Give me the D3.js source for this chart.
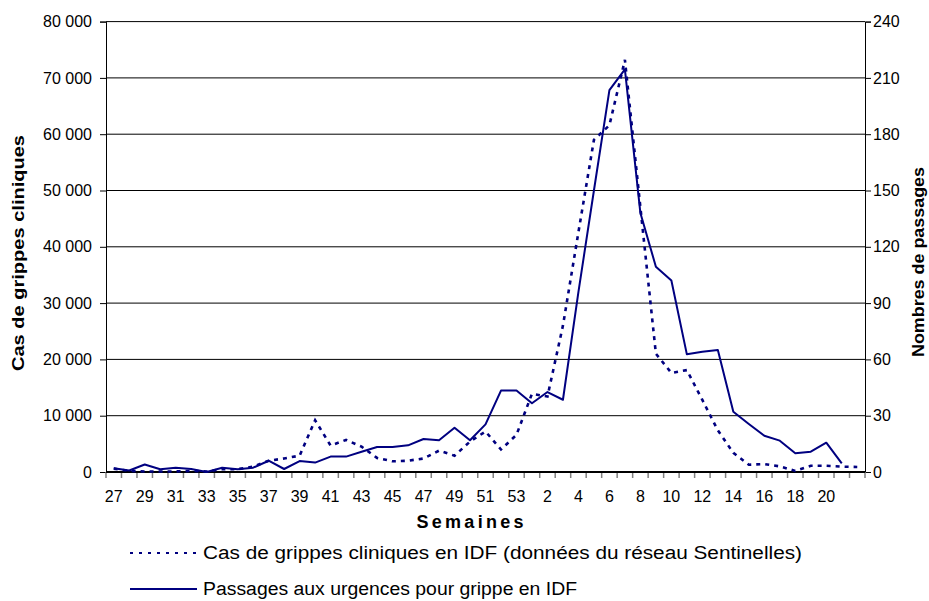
<!DOCTYPE html>
<html>
<head>
<meta charset="utf-8">
<script src="https://cdn.jsdelivr.net/npm/d3@7"></script>
<style>
  body { margin: 0; background: #fff; }
  text { font-family: "Liberation Sans", Arial, sans-serif; fill: #000; }
</style>
</head>
<body>
<div id="chart"></div>
<script>
// Weeks (27..53 then 1..22)
const weeks = ['27','28','29','30','31','32','33','34','35','36','37','38','39','40','41','42','43','44','45','46','47','48','49','50','51','52','53',
  '1','2','3','4','5','6','7','8','9','10','11','12','13','14','15','16','17','18','19','20','21','22'];
const weekLabels = ['27','29','31','33','35','37','39','41','43','45','47','49','51','53','2','4','6','8','10','12','14','16','18','20'];

// Cas de grippes cliniques (left axis)
const cases = [600, 200, 100, 100, 100, 200, 100, 500, 500, 950, 2000, 2400, 2900, 9200, 4700, 5700, 4500, 2500, 1900, 2000, 2400, 3800, 2900, 5400, 7200, 4000, 6600,
  13900, 13400, 26000, 42600, 59000, 61600, 73200, 47000, 21000, 17600, 18100, 12800, 7400, 3400, 1300, 1400, 1000, 200, 1100, 1100, 950, 900];

// Passages aux urgences (right axis)
const visits = [2, 0.8, 4, 1.5, 2.3, 1.6, 0, 2.3, 1.5, 2.3, 6, 1.6, 5.8, 5, 8.2, 8.2, 10.8, 13.3, 13.3, 14.2, 17.6, 16.9, 23.6, 16.9, 25.4, 43.4, 43.4,
  36.6, 42.6, 38.5, 96, 150, 203.5, 214.5, 138, 109.4, 102, 62.7, 64.1, 65, 32.1, 25.6, 19.3, 16.7, 10, 10.8, 15.6, 4.6];

const leftTicks = [0, 10000, 20000, 30000, 40000, 50000, 60000, 70000, 80000];
const rightTicks = [0, 30, 60, 90, 120, 150, 180, 210, 240];

const W = 929, H = 601;
const plot = { left: 106, right: 865, top: 21.6, bottom: 472 };
const navy = '#000080';

const svg = d3.select('#chart').append('svg')
  .attr('width', W)
  .attr('height', H);

const x = d3.scaleBand()
  .domain(weeks)
  .range([plot.left, plot.right])
  .padding(0);

const yL = d3.scaleLinear().domain([0, 80000]).range([plot.bottom, plot.top]);
const yR = d3.scaleLinear().domain([0, 240]).range([plot.bottom, plot.top]);

const fr = d3.formatLocale({ decimal: ',', thousands: '\u00a0', grouping: [3], currency: ['', ''] });
const fmt = fr.format(',');

// gridlines
svg.append('g')
  .selectAll('line')
  .data(leftTicks)
  .join('line')
  .attr('x1', plot.left).attr('x2', plot.right)
  .attr('y1', d => yL(d)).attr('y2', d => yL(d))
  .attr('stroke', '#000').attr('stroke-width', 1);

// left axis
const gl = svg.append('g')
  .attr('transform', `translate(${plot.left},0)`)
  .call(d3.axisLeft(yL).tickValues(leftTicks).tickFormat(fmt).tickSize(6).tickPadding(8));
gl.select('.domain').attr('stroke', '#000');
gl.selectAll('text').attr('font-size', 16);

// right axis
const gr = svg.append('g')
  .attr('transform', `translate(${plot.right},0)`)
  .call(d3.axisRight(yR).tickValues(rightTicks).tickSize(6).tickPadding(2));
gr.selectAll('text').attr('font-size', 16);

// x axis ticks at band edges
const edges = weeks.map(d => x(d)).concat([x(weeks[weeks.length - 1]) + x.bandwidth()]);
svg.append('g')
  .selectAll('line')
  .data(edges)
  .join('line')
  .attr('x1', d => d).attr('x2', d => d)
  .attr('y1', plot.bottom).attr('y2', plot.bottom + 6)
  .attr('stroke', '#808080').attr('stroke-width', 1.5);

svg.append('line')
  .attr('x1', plot.left).attr('x2', plot.right)
  .attr('y1', plot.bottom).attr('y2', plot.bottom)
  .attr('stroke', '#000').attr('stroke-width', 2);

svg.append('g')
  .selectAll('text')
  .data(weekLabels)
  .join('text')
  .attr('x', d => x(d) + x.bandwidth() / 2)
  .attr('y', 502)
  .attr('text-anchor', 'middle')
  .attr('font-size', 16)
  .text(d => d);

// lines
const cx = (d, i) => x(weeks[i]) + x.bandwidth() / 2;

svg.append('path')
  .datum(cases)
  .attr('fill', 'none')
  .attr('stroke', navy)
  .attr('stroke-width', 2.6)
  .attr('stroke-dasharray', '4,5')
  .attr('d', d3.line().x(cx).y(d => yL(d)));

svg.append('path')
  .datum(visits)
  .attr('fill', 'none')
  .attr('stroke', navy)
  .attr('stroke-width', 2)
  .attr('stroke-linejoin', 'round')
  .attr('d', d3.line().x(cx).y(d => yR(d)));

// axis titles
svg.append('text')
  .attr('transform', 'translate(24,253) rotate(-90)')
  .attr('text-anchor', 'middle')
  .attr('font-size', 17)
  .attr('font-weight', 'bold')
  .attr('textLength', 236)
  .attr('lengthAdjust', 'spacingAndGlyphs')
  .text('Cas de grippes cliniques');

svg.append('text')
  .attr('transform', 'translate(924,262) rotate(-90)')
  .attr('text-anchor', 'middle')
  .attr('font-size', 16)
  .attr('font-weight', 'bold')
  .attr('textLength', 190)
  .attr('lengthAdjust', 'spacingAndGlyphs')
  .text('Nombres de passages');

svg.append('text')
  .attr('x', 470)
  .attr('y', 528)
  .attr('text-anchor', 'middle')
  .attr('font-size', 18)
  .attr('font-weight', 'bold')
  .attr('textLength', 107)
  .attr('lengthAdjust', 'spacing')
  .text('Semaines');

// legend
const legend = [
  { label: 'Cas de grippes cliniques en IDF (données du réseau Sentinelles)', dash: '3,6', width: 2.2, y: 553, len: 599 },
  { label: 'Passages aux urgences pour grippe en IDF', dash: null, width: 2, y: 589, len: 374 }
];
const lg = svg.append('g');
legend.forEach(l => {
  lg.append('line')
    .attr('x1', 130).attr('x2', 197)
    .attr('y1', l.y).attr('y2', l.y)
    .attr('stroke', navy)
    .attr('stroke-width', l.width)
    .attr('stroke-dasharray', l.dash);
  lg.append('text')
    .attr('x', 203)
    .attr('y', l.y + 6)
    .attr('font-size', 18)
    .attr('textLength', l.len)
    .attr('lengthAdjust', 'spacingAndGlyphs')
    .text(l.label);
});
</script>
</body>
</html>
